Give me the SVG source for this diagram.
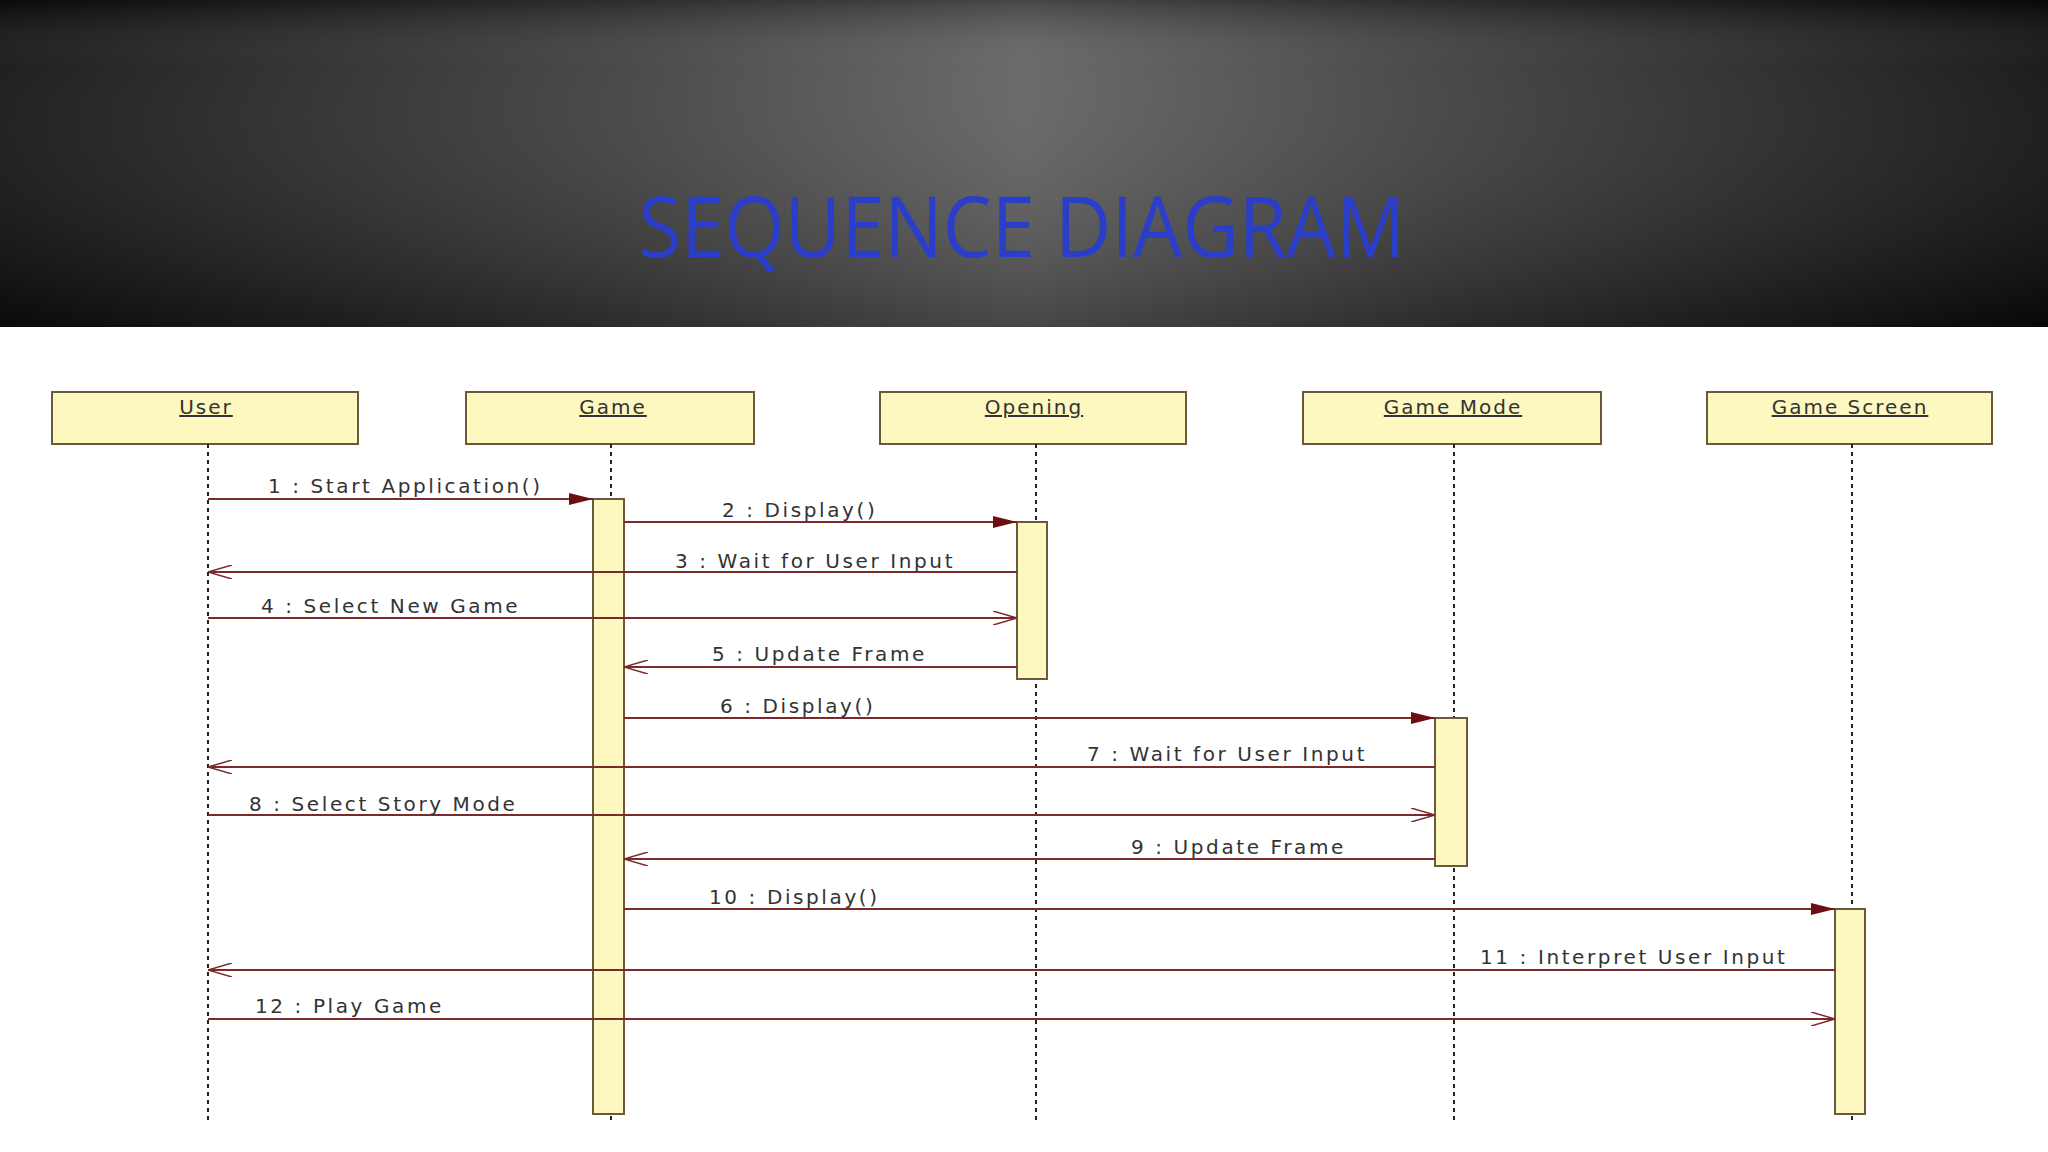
<svg xmlns="http://www.w3.org/2000/svg" width="2048" height="1152" viewBox="0 0 2048 1152">
<defs>
<linearGradient id="hx" x1="0" y1="0" x2="1" y2="0">
<stop offset="0" stop-color="#0d0d0d"/><stop offset="0.3" stop-color="#3a3a3a"/><stop offset="0.5" stop-color="#5e5e5e"/><stop offset="0.7" stop-color="#3a3a3a"/><stop offset="1" stop-color="#0a0a0a"/>
</linearGradient>
<linearGradient id="hy" x1="0" y1="0" x2="0" y2="1">
<stop offset="0" stop-color="#000" stop-opacity="0.25"/><stop offset="0.2" stop-color="#fff" stop-opacity="0.08"/><stop offset="1" stop-color="#000" stop-opacity="0.25"/>
</linearGradient>
<marker id="fill" markerWidth="24" markerHeight="12" refX="24" refY="6" orient="auto" markerUnits="userSpaceOnUse"><path d="M0,0 L24,6 L0,12 Z" fill="#6b0f12"/></marker>
<marker id="open" markerWidth="24" markerHeight="14" refX="24" refY="7" orient="auto" markerUnits="userSpaceOnUse"><path d="M0,0 L24,7 L0,14" fill="none" stroke="#7a2a2a" stroke-width="1.5"/></marker>
</defs>
<style>
.box{fill:#fdf8c0;stroke:#6b5a3a;stroke-width:2}
.name{font-family:"DejaVu Sans",Verdana,sans-serif;font-size:20px;letter-spacing:2px;fill:#333;text-anchor:middle;text-decoration:underline}
.life{stroke:#222;stroke-width:2;stroke-dasharray:4 4}
.act{fill:#fdf8c0;stroke:#6b5a3a;stroke-width:2}
.msg{stroke:#7a2a2a;stroke-width:1.8;fill:none}
.call{marker-end:url(#fill)}
.ret{marker-end:url(#open)}
.lbl{font-family:"DejaVu Sans",Verdana,sans-serif;font-size:20px;letter-spacing:2.6px;fill:#333}
</style>
<rect width="2048" height="1152" fill="#fff"/>
<rect width="2048" height="327" fill="url(#hx)"/>
<rect width="2048" height="327" fill="url(#hy)"/>
<text x="1022" y="257" font-family="Open Sans,Noto Sans,sans-serif" font-size="84" fill="#2b3ec9" text-anchor="middle" textLength="767" lengthAdjust="spacingAndGlyphs">SEQUENCE DIAGRAM</text>
<g id="user"><rect class="box" x="52" y="392" width="306" height="52"/><text class="name" x="206" y="414">User</text><line class="life" x1="208" y1="444" x2="208" y2="1123"/></g>
<g id="game"><rect class="box" x="466" y="392" width="288" height="52"/><text class="name" x="613" y="414">Game</text><line class="life" x1="611" y1="444" x2="611" y2="1123"/><rect class="act" x="593" y="499" width="31" height="615"/></g>
<g id="opening"><rect class="box" x="880" y="392" width="306" height="52"/><text class="name" x="1034" y="414">Opening</text><line class="life" x1="1036" y1="444" x2="1036" y2="1123"/><rect class="act" x="1017" y="522" width="30" height="157"/></g>
<g id="gamemode"><rect class="box" x="1303" y="392" width="298" height="52"/><text class="name" x="1453" y="414">Game Mode</text><line class="life" x1="1454" y1="444" x2="1454" y2="1123"/><rect class="act" x="1435" y="718" width="32" height="148"/></g>
<g id="gamescreen"><rect class="box" x="1707" y="392" width="285" height="52"/><text class="name" x="1850" y="414">Game Screen</text><line class="life" x1="1852" y1="444" x2="1852" y2="1123"/><rect class="act" x="1835" y="909" width="30" height="205"/></g>
<g id="connectors">
<line class="msg call" x1="208" y1="499" x2="593" y2="499"/>
<line class="msg call" x1="624" y1="522" x2="1017" y2="522"/>
<line class="msg ret" x1="1017" y1="572" x2="208" y2="572"/>
<line class="msg ret" x1="208" y1="618" x2="1017" y2="618"/>
<line class="msg ret" x1="1017" y1="667" x2="624" y2="667"/>
<line class="msg call" x1="624" y1="718" x2="1435" y2="718"/>
<line class="msg ret" x1="1435" y1="767" x2="208" y2="767"/>
<line class="msg ret" x1="208" y1="815" x2="1435" y2="815"/>
<line class="msg ret" x1="1435" y1="859" x2="624" y2="859"/>
<line class="msg call" x1="624" y1="909" x2="1835" y2="909"/>
<line class="msg ret" x1="1835" y1="970" x2="208" y2="970"/>
<line class="msg ret" x1="208" y1="1019" x2="1835" y2="1019"/>
<text class="lbl" x="268" y="493">1 : Start Application()</text>
<text class="lbl" x="722" y="517">2 : Display()</text>
<text class="lbl" x="675" y="568">3 : Wait for User Input</text>
<text class="lbl" x="261" y="613">4 : Select New Game</text>
<text class="lbl" x="712" y="661">5 : Update Frame</text>
<text class="lbl" x="720" y="713">6 : Display()</text>
<text class="lbl" x="1087" y="761">7 : Wait for User Input</text>
<text class="lbl" x="249" y="811">8 : Select Story Mode</text>
<text class="lbl" x="1131" y="854">9 : Update Frame</text>
<text class="lbl" x="709" y="904">10 : Display()</text>
<text class="lbl" x="1480" y="964">11 : Interpret User Input</text>
<text class="lbl" x="255" y="1013">12 : Play Game</text>
</g>
</svg>
